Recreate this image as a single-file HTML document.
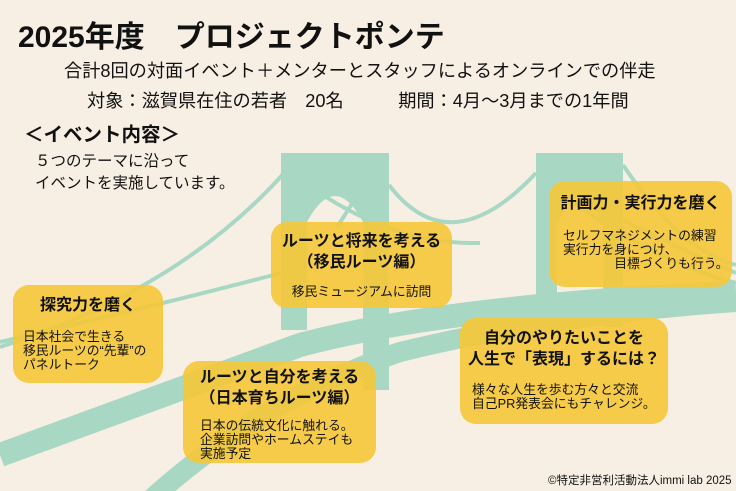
<!DOCTYPE html>
<html><head><meta charset="utf-8"><style>
body{margin:0;width:736px;height:491px;overflow:hidden;background:#f7efe4;font-family:"Liberation Sans","Noto Sans CJK JP",sans-serif;color:#111;position:relative}
.t{position:absolute;white-space:nowrap}
.box{position:absolute;background:rgba(244,200,60,0.92);border-radius:16px}
.h{font-weight:bold;font-size:16px;text-align:center;line-height:21px}
.b{font-size:12.8px;line-height:14px}
</style></head><body>
<svg width="736" height="491" style="position:absolute;left:0;top:0">
<g fill="#a8d8c3">
<path d="M281 153 H389 V390 H363 V222 Q335 170 307 222 V330 H281 Z"/>
<path d="M536 153 H623 V327 H603 V225 Q580 170 557 225 V300 H536 Z"/>
</g>
<g fill="none" stroke="#a8d8c3">
<path d="M0 455 Q150 400 300 345 Q450 305 736 293" stroke-width="24"/>
<path d="M150 500 Q260 400 400 352 Q550 315 736 302" stroke-width="20"/>
<path d="M0 342 Q180 300 300 268" stroke-width="4"/>
<path d="M0 347 Q180 290 285 172" stroke-width="4"/>
<path d="M389 185 Q450 265 536 173" stroke-width="4"/>
<path d="M323 195 Q400 245 480 243" stroke-width="4"/>
<path d="M353 202 Q345 215 337 227" stroke-width="4"/>
<path d="M563 195 Q650 260 736 283" stroke-width="4"/>
<path d="M736 273 Q660 240 617 217" stroke-width="4"/>
<path d="M623 165 Q680 250 736 265" stroke-width="4"/>
</g>
</svg>
<div class="t" style="left:18px;top:12px;font-size:30px;font-weight:bold">2025年度　プロジェクトポンテ</div>
<div class="t" style="left:64px;top:57px;font-size:18.2px">合計8回の対面イベント＋メンターとスタッフによるオンラインでの伴走</div>
<div class="t" style="left:87px;top:87px;font-size:18.2px">対象：滋賀県在住の若者　20名　　　期間：4月〜3月までの1年間</div>
<div class="t" style="left:24px;top:118px;font-size:19.5px;font-weight:bold">＜イベント内容＞</div>
<div class="t" style="left:35px;top:151px;font-size:15.5px;line-height:22px">５つのテーマに沿って<br>イベントを実施しています。</div>

<div class="box" style="left:13px;top:285px;width:150px;height:98px">
<div class="h" style="margin-top:10px">探究力を磨く</div>
<div class="b" style="margin:14px 0 0 10px">日本社会で生きる<br>移民ルーツの“先輩”の<br>パネルトーク</div></div>

<div class="box" style="left:271px;top:222px;width:181px;height:86px">
<div class="h" style="margin-top:9px">ルーツと将来を考える<br>（移民ルーツ編）</div>
<div class="b" style="margin-top:12px;text-align:center">移民ミュージアムに訪問</div></div>

<div class="box" style="left:549px;top:181px;width:183px;height:106px">
<div class="h" style="margin-top:12px">計画力・実行力を磨く</div>
<div class="b" style="margin:15px 0 0 14px">セルフマネジメントの練習<br>実行力を身につけ、<br>　　　　目標づくりも行う。</div></div>

<div class="box" style="left:183px;top:361px;width:193px;height:102px">
<div class="h" style="margin-top:6px">ルーツと自分を考える<br>（日本育ちルーツ編）</div>
<div class="b" style="margin:10px 0 0 17px">日本の伝統文化に触れる。<br>企業訪問やホームステイも<br>実施予定</div></div>

<div class="box" style="left:460px;top:318px;width:208px;height:106px">
<div class="h" style="margin-top:10px">自分のやりたいことを<br>人生で「表現」するには？</div>
<div class="b" style="margin:13px 0 0 12px">様々な人生を歩む方々と交流<br>自己PR発表会にもチャレンジ。</div></div>

<div class="t" style="left:548px;top:472px;font-size:11.5px">©特定非営利活動法人immi lab 2025</div>
</body></html>
